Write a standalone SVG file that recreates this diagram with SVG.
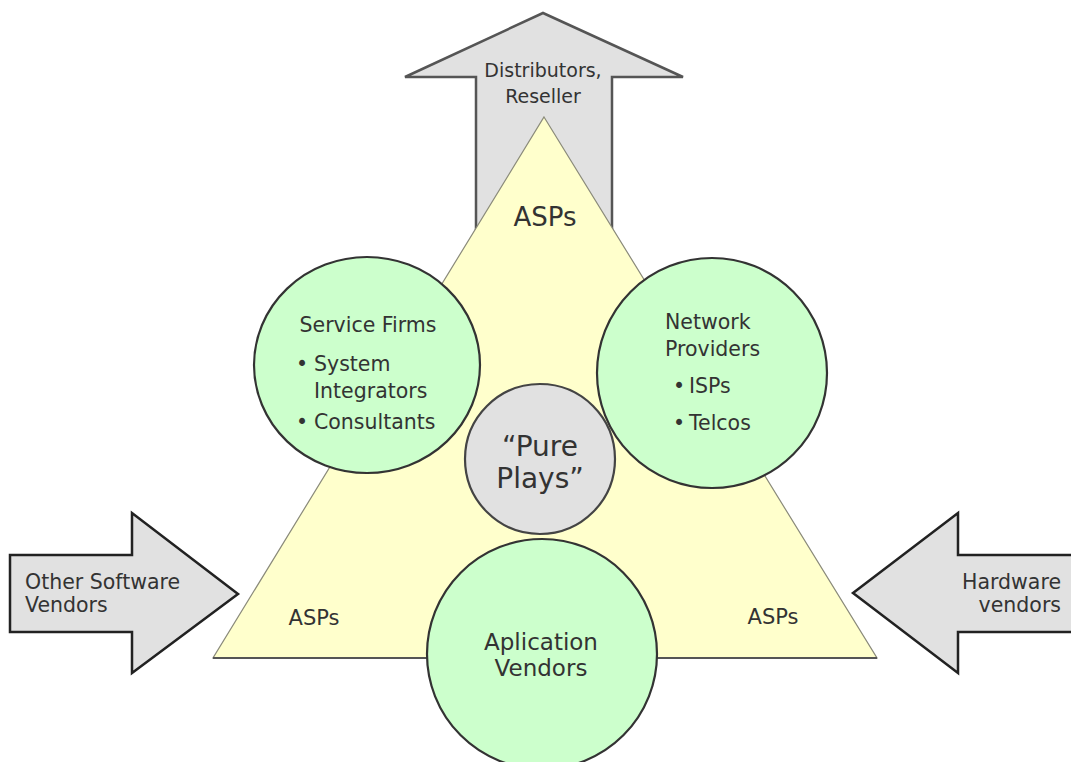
<svg xmlns="http://www.w3.org/2000/svg" width="1071" height="762" viewBox="0 0 1071 762">
  <style>
    .lbl { font-family: "DejaVu Sans", "Liberation Sans", sans-serif; fill: #333333; }
    .arrow { fill: #e1e1e1; stroke: #222222; stroke-width: 2.5; stroke-linejoin: miter; }
    .arrow-up { fill: #e1e1e1; stroke: #555555; stroke-width: 2.5; }
    .green { fill: #ccffcc; stroke: #333333; stroke-width: 2.2; }
    .grey { fill: #e1e1e1; stroke: #444444; stroke-width: 2.2; }
  </style>
  <rect width="1071" height="762" fill="#ffffff"/>

  <g id="connectors">
    <!-- upward arrow behind the triangle -->
    <polygon class="arrow-up" points="543,13 683,77 612,77 612,260 476,260 476,77 405,77"/>
    <!-- incoming arrow from the left -->
    <polygon class="arrow" points="10,555 132,555 132,513 238,594 132,673 132,632 10,632"/>
    <!-- incoming arrow from the right -->
    <polygon class="arrow" points="1075,555 958,555 958,513 853,593 958,673 958,632 1075,632"/>
  </g>

  <g id="triangle">
    <polygon points="544,117 877,658 213,658" fill="#ffffcc" stroke="#8a8a7a" stroke-width="1.2"/>
    <line x1="213" y1="658" x2="877" y2="658" stroke="#555555" stroke-width="2"/>
  </g>

  <g id="label-up">
    <text class="lbl" x="543" y="77" font-size="19" text-anchor="middle">Distributors,</text>
    <text class="lbl" x="543" y="103" font-size="19" text-anchor="middle">Reseller</text>
  </g>
  <g id="label-left">
    <text class="lbl" x="25" y="589" font-size="20.5">Other Software</text>
    <text class="lbl" x="25" y="612" font-size="20.5">Vendors</text>
  </g>
  <g id="label-right">
    <text class="lbl" x="1061" y="589" font-size="20.5" text-anchor="end">Hardware</text>
    <text class="lbl" x="1061" y="612" font-size="20.5" text-anchor="end">vendors</text>
  </g>

  <g id="asps">
    <text class="lbl" x="545" y="226" font-size="26" text-anchor="middle">ASPs</text>
    <text class="lbl" x="314" y="625" font-size="21" text-anchor="middle">ASPs</text>
    <text class="lbl" x="773" y="624" font-size="21" text-anchor="middle">ASPs</text>
  </g>

  <g id="service-firms">
    <ellipse class="green" cx="367" cy="365" rx="113" ry="108"/>
    <text class="lbl" x="368" y="332" font-size="20.5" text-anchor="middle">Service Firms</text>
    <text class="lbl" x="296" y="371" font-size="20.5">•</text>
    <text class="lbl" x="314" y="371" font-size="20.5">System</text>
    <text class="lbl" x="314" y="398" font-size="20.5">Integrators</text>
    <text class="lbl" x="296" y="429" font-size="20.5">•</text>
    <text class="lbl" x="314" y="429" font-size="20.5">Consultants</text>
  </g>

  <g id="network-providers">
    <circle class="green" cx="712" cy="373" r="115"/>
    <text class="lbl" x="665" y="329" font-size="20.5">Network</text>
    <text class="lbl" x="665" y="356" font-size="20.5">Providers</text>
    <text class="lbl" x="673" y="393" font-size="20.5">•</text>
    <text class="lbl" x="689" y="393" font-size="20.5">ISPs</text>
    <text class="lbl" x="673" y="430" font-size="20.5">•</text>
    <text class="lbl" x="689" y="430" font-size="20.5">Telcos</text>
  </g>

  <g id="pure-plays">
    <circle class="grey" cx="540" cy="459" r="75"/>
    <text class="lbl" x="540" y="456" font-size="28" text-anchor="middle">“Pure</text>
    <text class="lbl" x="540" y="488" font-size="28" text-anchor="middle">Plays”</text>
  </g>

  <g id="application-vendors">
    <circle class="green" cx="542" cy="654" r="115"/>
    <text class="lbl" x="541" y="650" font-size="23" text-anchor="middle">Aplication</text>
    <text class="lbl" x="541" y="676" font-size="23" text-anchor="middle">Vendors</text>
  </g>
</svg>
